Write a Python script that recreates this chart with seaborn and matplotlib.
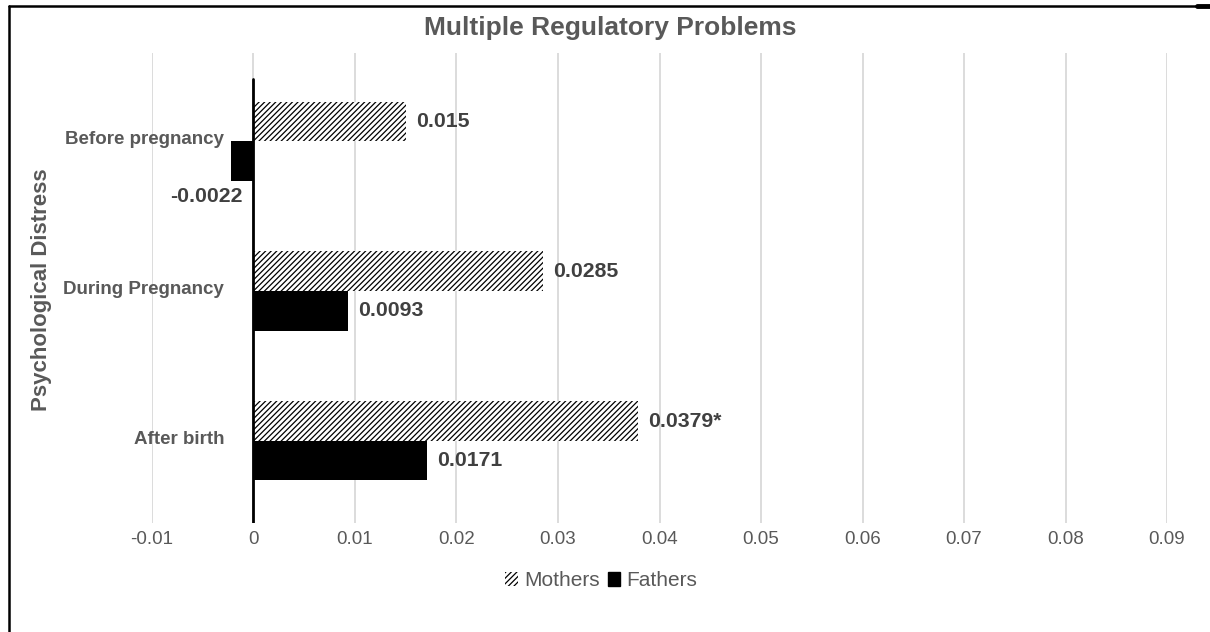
import matplotlib
matplotlib.use("Agg")
import matplotlib.pyplot as plt
from matplotlib.patches import Patch
from matplotlib.lines import Line2D
import seaborn as sns
import pandas as pd

# Data
categories = ["Before pregnancy", "During Pregnancy", "After birth"]
groups = ["Mothers", "Fathers"]
mothers = [0.015, 0.0285, 0.0379]
fathers = [-0.0022, 0.0093, 0.0171]
mother_labels = ["0.015", "0.0285", "0.0379*"]
father_labels = ["-0.0022", "0.0093", "0.0171"]
x_ticks = [-0.01, 0, 0.01, 0.02, 0.03, 0.04, 0.05, 0.06, 0.07, 0.08, 0.09]
x_tick_labels = ["-0.01", "0", "0.01", "0.02", "0.03", "0.04", "0.05", "0.06", "0.07", "0.08", "0.09"]

df = pd.DataFrame({
    "category": categories * 2,
    "group": [groups[0]] * 3 + [groups[1]] * 3,
    "value": mothers + fathers,
})

sns.set_theme(style="white")
plt.rcParams["font.family"] = ["Liberation Sans", "DejaVu Sans"]
plt.rcParams["hatch.linewidth"] = 0.9
plt.rcParams["hatch.color"] = "black"

GRAY = "#595959"
DARK = "#404040"

fig = plt.figure(figsize=(12.1, 6.32), dpi=100)
ax = fig.add_axes([0.1256, 0.1725, 0.8389, 0.7436])

sns.barplot(data=df, x="value", y="category", hue="group", order=categories,
            hue_order=groups, orient="h", width=0.527, gap=0,
            palette={"Mothers": "white", "Fathers": "black"},
            linewidth=0, saturation=1, legend=False, ax=ax)

# hatch the mothers' bars
for bar in ax.containers[0]:
    bar.set_hatch("//////")
    bar.set_edgecolor("black")
    bar.set_linewidth(0)

ax.set_xlim(-0.01, 0.09)
ax.set_ylim(2.547, -0.587)
ax.set_xticks(x_ticks)
ax.set_xticklabels(x_tick_labels, color=GRAY, fontsize=13.5)
ax.tick_params(axis="x", length=0, pad=6)
ax.set_yticks([])
ax.set_ylabel("")
ax.set_xlabel("")
for s in ax.spines.values():
    s.set_visible(False)

ax.grid(axis="x", color="#d9d9d9", linewidth=1.3)
ax.set_axisbelow(True)
ax.axvline(0, ymin=0, ymax=0.945, color="black", linewidth=2, zorder=3)

# category labels
for i, c in enumerate(categories):
    ax.text(-0.0029, i - 0.01, c, ha="right", va="center", color=GRAY,
            fontsize=13.5, fontweight="bold")

# value labels
for bar, lab in zip(ax.containers[0], mother_labels):
    w = bar.get_width()
    yc = bar.get_y() + bar.get_height() / 2
    ax.text(w + 0.001, yc, lab, ha="left", va="center", color=DARK,
            fontsize=15.3, fontweight="bold")
for bar, lab, v in zip(ax.containers[1], father_labels, fathers):
    yc = bar.get_y() + bar.get_height() / 2
    if v < 0:
        ax.text(-0.0011, yc + 0.24, lab, ha="right", va="center", color=DARK,
                fontsize=15.3, fontweight="bold")
    else:
        ax.text(v + 0.001, yc, lab, ha="left", va="center", color=DARK,
                fontsize=15.3, fontweight="bold")

fig.text(0.5041, 0.955, "Multiple Regulatory Problems", ha="center", va="center",
         color=GRAY, fontsize=19, fontweight="bold")
fig.text(0.0347, 0.541, "Psychological Distress", ha="center", va="center",
         rotation=90, color=GRAY, fontsize=16, fontweight="bold")

handles = [Patch(facecolor="white", hatch="//////", edgecolor="black", linewidth=0),
           Patch(facecolor="black", edgecolor="black")]
fig.legend(handles, groups, loc="center", bbox_to_anchor=(0.497, 0.081), ncol=2,
           frameon=False, fontsize=15, labelcolor=GRAY, handlelength=0.6,
           handleheight=0.6, handletextpad=0.3, columnspacing=0.4)

# outer frame
fig.add_artist(Line2D([0.0074, 0.0074], [0, 0.9905], color="black", linewidth=1.8,
                      transform=fig.transFigure))
fig.add_artist(Line2D([0.0074, 0.989], [0.9905, 0.9905], color="black", linewidth=1.8,
                      transform=fig.transFigure))
fig.add_artist(Line2D([0.989, 1.0], [0.9905, 0.9905], color="black", linewidth=3.5,
                      transform=fig.transFigure))

fig.savefig("out.png", dpi=100, facecolor="white")
